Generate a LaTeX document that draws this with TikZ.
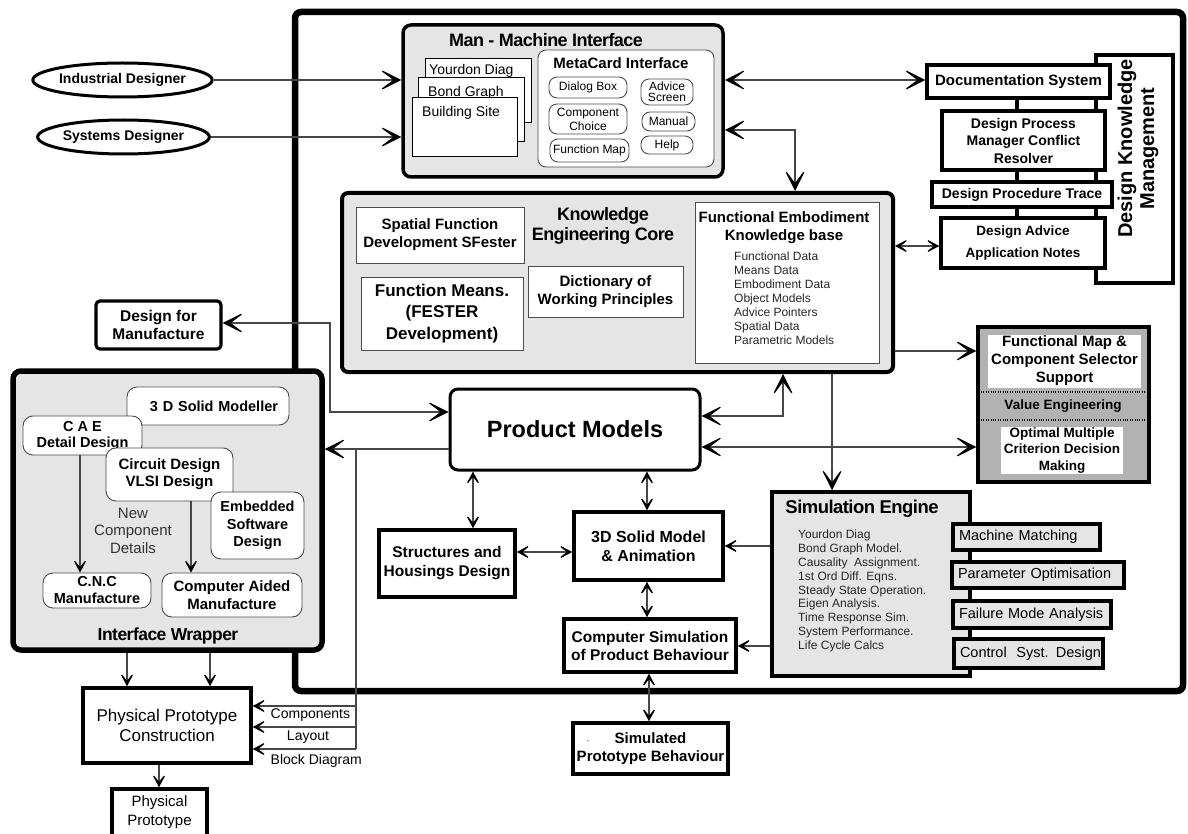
\documentclass[tikz,border=0pt]{standalone}
\usepackage{fontspec}
\setmainfont{Liberation Sans}
\newfontfamily\tightsans{Liberation Sans}[LetterSpace=-3.0]
\usetikzlibrary{arrows.meta,shapes.geometric}

\newcommand\fsz[2]{\fontsize{#1}{#2}\selectfont}

\tikzset{
  BigHead/.tip={Stealth[length=24pt,width=24pt,inset=16pt,color=black]},
  MidHead/.tip={Stealth[length=16pt,width=17pt,inset=10.5pt,color=black]},
  conn/.style={draw=black!72, line width=1.1pt},
  thicklink/.style={draw, line width=3.5pt},
  thickbox/.style={draw, line width=3.5pt, fill=white, align=center, inner sep=0pt, font=\bfseries},
  thinbox/.style={draw=black!70, line width=0.9pt, fill=white, align=center, inner sep=0pt},
  pill/.style={thinbox, rounded corners=8pt},
  panel/.style={draw, line width=4pt, fill=black!10, rounded corners=8pt, inner sep=0pt},
  sidebox/.style={draw, line width=3.5pt, fill=black!10, inner xsep=6pt, inner ysep=0pt, align=left, font=\fsz{14.5}{16}},
  page/.style={draw, line width=1pt, fill=white, inner sep=0pt},
  actor/.style={ellipse, draw, line width=3pt, inner sep=0pt, minimum width=153pt, minimum height=34pt, font=\bfseries\fsz{14}{16}},
}

\begin{document}
\begin{tikzpicture}[x=1pt,y=-1pt]
\useasboundingbox (0,0) rectangle (1188,834);

% ---------------- system boundary ----------------
\node[draw, line width=6.5pt, rounded corners=6pt, minimum width=888pt, minimum height=679pt, inner sep=0pt] (frame) at (739,351.5) {};

% ---------------- designers ----------------
\node[actor] (indes) at (122.5,80) {Industrial Designer};
\node[actor] (sysdes) at (123.5,137) {Systems Designer};

% ---------------- man-machine interface ----------------
\node[panel, line width=3.5pt, minimum width=320pt, minimum height=152pt] (mmi) at (563,101) {};
\node[font=\tightsans\bfseries\fsz{18}{20}] (mmititle) at (546,40) {Man - Machine Interface};
\node[page, minimum width=106pt, minimum height=64pt] (pyourdon) at (478,91) {};
\node[anchor=base west, inner sep=0pt, font=\fsz{14}{16}] (tyourdon) at (429,75) {Yourdon Diag};
\node[page, minimum width=106pt, minimum height=64pt] (pbond) at (471,110) {};
\node[anchor=base west, inner sep=0pt, font=\fsz{14}{16}] (tbond) at (428,96.5) {Bond Graph};
\node[page, minimum width=105pt, minimum height=59pt] (pbuild) at (464.5,127.5) {};
\node[anchor=base west, inner sep=0pt, font=\fsz{14}{16}] (tbuild) at (422,117) {Building Site};

\node[thinbox, rounded corners=8pt, minimum width=176pt, minimum height=117pt] (metacard) at (626,108.5) {};
\node[font=\bfseries\fsz{15}{17}] (mctitle) at (621,63) {MetaCard Interface};
\node[pill, minimum width=78pt, minimum height=21pt, font=\fsz{12}{13.5}] (dialog) at (588,87.5) {Dialog Box};
\node[pill, minimum width=78pt, minimum height=30pt, font=\fsz{12}{14}] (compchoice) at (588,119) {Component\\Choice};
\node[pill, minimum width=79pt, minimum height=23pt, font=\fsz{12}{13.5}] (funcmap) at (589.5,150.5) {Function Map};
\node[pill, minimum width=52pt, minimum height=26pt, font=\fsz{12}{11}] (advice) at (667,92) {Advice\\Screen};
\node[pill, minimum width=53pt, minimum height=19pt, font=\fsz{12}{13.5}] (manual) at (668.5,121.5) {Manual};
\node[pill, minimum width=52pt, minimum height=18pt, font=\fsz{12}{13.5}] (help) at (667,145) {Help};

% ---------------- knowledge engineering core ----------------
\node[panel, rounded corners=6pt, minimum width=551pt, minimum height=179pt] (kec) at (617.5,282.5) {};
\node[thinbox, minimum width=168pt, minimum height=56pt, font=\bfseries\fsz{15}{18}] (sfester) at (440,235) {Spatial Function\\Development SFester};
\node[thinbox, minimum width=162pt, minimum height=73pt, font=\bfseries\fsz{17}{21.5}] (fmeans) at (442,313.5) {Function Means.\\(FESTER\\Development)};
\node[align=center, font=\tightsans\bfseries\fsz{18}{20}] (kectitle) at (603,226) {Knowledge\\Engineering Core};
\node[thinbox, minimum width=155pt, minimum height=51pt, font=\bfseries\fsz{15}{18}] (dict) at (605.5,291.5) {Dictionary of\\Working Principles};
\node[thinbox, minimum width=184pt, minimum height=161pt] (kb) at (787,282.5) {};
\node[align=center, font=\bfseries\fsz{15}{18}] (kbtitle) at (784,228) {Functional Embodiment\\Knowledge base};
\node[anchor=north west, align=left, inner sep=0pt, text=black!85, font=\fsz{12}{14}] (kblist) at (734,251.5)
  {Functional Data\\Means Data\\Embodiment Data\\Object Models\\Advice Pointers\\Spatial Data\\Parametric Models};

% ---------------- design knowledge management ----------------
\node[draw, line width=3.5pt, fill=white, minimum width=77pt, minimum height=228pt, inner sep=0pt] (dkm) at (1134.5,169) {};
\node[rotate=90, align=center, font=\bfseries\fsz{20}{22}] (dkmtext) at (1138,148.5) {Design Knowledge\\Management};
\node[thickbox, minimum width=183pt, minimum height=33pt, font=\bfseries\fsz{15}{17}] (doc) at (1018.5,81.5) {Documentation System};
\node[thickbox, minimum width=163pt, minimum height=59pt, font=\bfseries\fsz{14}{17.5}] (dpm) at (1023.5,140.5) {Design Process\\Manager Conflict\\Resolver};
\node[thickbox, minimum width=180pt, minimum height=25pt, font=\bfseries\fsz{14}{16}] (dpt) at (1022,194.5) {Design Procedure Trace};
\node[thickbox, minimum width=164pt, minimum height=50pt, font=\bfseries\fsz{13.5}{21.5}] (dadv) at (1023,243) {Design Advice\\Application Notes};
\coordinate (xDK) at (1017,0);
\draw[thicklink] (doc.south -| xDK) -- (dpm.north -| xDK);
\draw[thicklink] (dpm.south -| xDK) -- (dpt.north -| xDK);
\draw[thicklink] (dpt.south -| xDK) -- (dadv.north -| xDK);

% ---------------- selector / value engineering ----------------
\node[draw, line width=3.5pt, fill=black!30, minimum width=171pt, minimum height=155pt, inner sep=0pt] (fm) at (1063.5,404.5) {};
\node[fill=white, minimum width=153pt, minimum height=53pt, inner sep=0pt, align=center, font=\bfseries\fsz{15}{18}] (fmsel) at (1064.5,361) {Functional Map \&\\Component Selector\\Support};
\coordinate (dotA) at (0,392);
\coordinate (dotB) at (0,420);
\draw[line width=1.1pt, dash pattern=on 1pt off 1.4pt] (fm.west |- dotA) -- (fm.east |- dotA);
\draw[line width=1.1pt, dash pattern=on 1pt off 1.4pt] (fm.west |- dotB) -- (fm.east |- dotB);
\node[font=\bfseries\fsz{13.5}{16}] (valeng) at (1063,406) {Value Engineering};
\node[fill=white, minimum width=122pt, minimum height=47pt, inner sep=0pt, align=center, font=\bfseries\fsz{13.5}{16.3}] (omcdm) at (1062,450.5) {Optimal Multiple\\Criterion Decision\\Making};

% ---------------- design for manufacture ----------------
\node[thickbox, line width=3.2pt, rounded corners=4pt, minimum width=125pt, minimum height=48pt, font=\bfseries\fsz{15.5}{17.5}] (dfm) at (158.5,325) {Design for\\Manufacture};

% ---------------- interface wrapper ----------------
\node[panel, line width=5.5pt, minimum width=309pt, minimum height=279pt] (wrap) at (167.5,510.5) {};
\node[thinbox, rounded corners=10pt, minimum width=162pt, minimum height=38pt, text width=140pt, align=right, font=\bfseries\fsz{14.5}{16}] (solidmod) at (208,406) {3 D Solid Modeller};
\node[thinbox, rounded corners=10pt, minimum width=119pt, minimum height=39pt, font=\bfseries\fsz{14.5}{16}] (cae) at (82.5,435.5) {C A E\\Detail Design};
\node[thinbox, rounded corners=10pt, minimum width=127pt, minimum height=53pt, font=\bfseries\fsz{15}{17}] (circuit) at (169.5,474.5) {Circuit Design\\VLSI Design};
\node[thinbox, rounded corners=10pt, minimum width=93pt, minimum height=67pt, font=\bfseries\fsz{14.5}{17.5}] (embedded) at (257.5,525.5) {Embedded\\Software\\Design};
\node[thinbox, rounded corners=10pt, minimum width=108pt, minimum height=35pt, font=\bfseries\fsz{14.5}{17}] (cnc) at (97,590.5) {C.N.C\\Manufacture};
\node[thinbox, rounded corners=10pt, minimum width=140pt, minimum height=44pt, font=\bfseries\fsz{15}{18}] (cam) at (232,595) {Computer Aided\\Manufacture};
\node[align=center, text=black!80, font=\fsz{15}{17.5}] (newcomp) at (133,530.5) {New\\Component\\Details};
\node[font=\tightsans\bfseries\fsz{17.5}{20}] (wraptitle) at (168,636) {Interface Wrapper};

% ---------------- product models and its neighbours ----------------
\node[thickbox, line width=3pt, rounded corners=8pt, minimum width=250pt, minimum height=81pt, font=\bfseries\fsz{23.5}{26}] (pm) at (575,429.5) {Product Models};
\node[thickbox, minimum width=136pt, minimum height=67pt, font=\bfseries\fsz{15.5}{19}] (struct) at (447,563.5) {Structures and\\Housings Design};
\node[thickbox, minimum width=149pt, minimum height=68pt, font=\bfseries\fsz{16}{18.7}] (solid) at (648.5,546) {3D Solid Model\\\& Animation};
\node[thickbox, minimum width=172pt, minimum height=53pt, font=\bfseries\fsz{15.5}{18}] (compsim) at (650,645.5) {Computer Simulation\\of Product Behaviour};
\node[thickbox, minimum width=155pt, minimum height=51pt, font=\bfseries\fsz{15}{17.5}] (simproto) at (650.5,748.5) {Simulated\\Prototype Behaviour};
\node[inner sep=0pt, font=\fsz{8}{8}] (tick) at (588,744) {\textasciigrave};

% ---------------- simulation engine ----------------
\node[draw, line width=3.5pt, fill=black!10, minimum width=198pt, minimum height=184pt, inner sep=0pt] (sim) at (871,584) {};
\node[font=\tightsans\bfseries\fsz{18.5}{20}] (simtitle) at (862,509) {Simulation Engine};
\node[anchor=north west, align=left, inner sep=0pt, text=black!85, font=\fsz{12}{13.9}] (simlist) at (798,529.5)
  {Yourdon Diag\\Bond Graph Model.\\Causality\ \ Assignment.\\1st Ord Diff. Eqns.\\Steady State Operation.\\Eigen Analysis.\\Time Response Sim.\\System Performance.\\Life Cycle Calcs};
\node[sidebox, minimum height=26pt, text width=135pt] (mm) at (1026.5,537) {\mbox{Machine Matching}};
\node[sidebox, minimum height=26pt, text width=160pt] (po) at (1038,575) {\mbox{Parameter Optimisation}};
\node[sidebox, minimum height=27pt, text width=146pt] (fma) at (1032,614.5) {\mbox{Failure Mode Analysis}};
\node[sidebox, minimum height=29pt, text width=137pt] (csd) at (1028.5,653.5) {\mbox{Control\ \ Syst. Design}};

% ---------------- physical prototype ----------------
\node[thickbox, minimum width=168pt, minimum height=75pt, font=\fsz{17}{20}] (ppc) at (167,725.5) {Physical Prototype\\Construction};
\node[thickbox, minimum width=95pt, minimum height=61pt] (pp) at (159.5,819.5) {};
\node[align=center, font=\fsz{15}{19}] (pptext) at (159.5,812.5) {Physical\\Prototype};
\node[anchor=west, inner sep=0pt, font=\fsz{14}{16}] (lcomp) at (270.5,715) {Components};
\node[inner sep=0pt, font=\fsz{14}{16}] (llay) at (308,737.5) {Layout};
\node[anchor=west, inner sep=0pt, font=\fsz{14}{16}] (lblock) at (270.5,761) {Block Diagram};

% ---------------- connector routing points ----------------
\coordinate (yA) at (0,80);
\coordinate (kbend) at (795,130);
\coordinate (yAdv) at (0,246);
\coordinate (ySel) at (0,351);
\coordinate (pkb) at (783,416);
\coordinate (yOpt) at (0,447);
\coordinate (xSim) at (832,0);
\coordinate (ySolid) at (0,546);
\coordinate (yComp) at (0,646);
\coordinate (xStr) at (473,0);
\coordinate (xSol) at (647,0);
\coordinate (ySS) at (0,552);
\coordinate (xSP) at (649,0);
\coordinate (yWrap) at (0,449);
\coordinate (bus) at (356,449);
\coordinate (busA) at (356,706);
\coordinate (busB) at (356,727);
\coordinate (busC) at (356,749);
\coordinate (dfmA) at (330,323);
\coordinate (dfmB) at (330,412);
\coordinate (xW1) at (127,0);
\coordinate (xW2) at (210,0);
\coordinate (xPP) at (159,0);
\coordinate (xC1) at (80,0);
\coordinate (xC2) at (191,0);

% ---------------- connectors ----------------
\draw[conn,-{BigHead}] (indes.east) -- (mmi.west |- indes.east);
\draw[conn,-{BigHead}] (sysdes.east) -- (mmi.west |- sysdes.east);
\draw[conn,{BigHead}-{BigHead}] (mmi.east |- yA) -- (doc.west |- yA);
\draw[conn,{BigHead}-{BigHead}] (mmi.east |- kbend) -| (kec.north -| kbend);
\draw[conn,{MidHead}-{MidHead}] (kec.east |- yAdv) -- (dadv.west |- yAdv);
\draw[conn,-{BigHead}] (kec.east |- ySel) -- (fm.west |- ySel);
\draw[conn,{BigHead}-{BigHead}] (pm.east |- pkb) -| (kec.south -| pkb);
\draw[conn,{BigHead}-{BigHead}] (pm.east |- yOpt) -- (fm.west |- yOpt);
\draw[conn,-{BigHead}] (kec.south -| xSim) -- (sim.north -| xSim);
\draw[conn,-{MidHead}] (sim.west |- ySolid) -- (solid.east |- ySolid);
\draw[conn,-{MidHead}] (sim.west |- yComp) -- (compsim.east |- yComp);
\draw[conn,{MidHead}-{MidHead}] (pm.south -| xStr) -- (struct.north -| xStr);
\draw[conn,{MidHead}-{MidHead}] (pm.south -| xSol) -- (solid.north -| xSol);
\draw[conn,{MidHead}-{MidHead}] (struct.east |- ySS) -- (solid.west |- ySS);
\draw[conn,{MidHead}-{MidHead}] (solid.south -| xSol) -- (compsim.north -| xSol);
\draw[conn,{MidHead}-{MidHead}] (compsim.south -| xSP) -- (simproto.north -| xSP);
\draw[conn,-{BigHead}] (pm.west |- yWrap) -- (wrap.east |- yWrap);
\draw[conn] (bus) -- (busC);
\draw[conn,-{MidHead}] (busA) -- (ppc.east |- busA);
\draw[conn,-{MidHead}] (busB) -- (ppc.east |- busB);
\draw[conn,-{MidHead}] (busC) -- (ppc.east |- busC);
\draw[conn,{BigHead}-{BigHead}] (dfm.east |- dfmA) -- (dfmA) -- (dfmB) -- (pm.west |- dfmB);
\draw[conn,-{MidHead}] (wrap.south -| xW1) -- (ppc.north -| xW1);
\draw[conn,-{MidHead}] (wrap.south -| xW2) -- (ppc.north -| xW2);
\draw[conn,-{MidHead}] (ppc.south -| xPP) -- (pp.north -| xPP);
\draw[conn,-{MidHead}] (cae.south -| xC1) -- (cnc.north -| xC1);
\draw[conn,-{MidHead}] (circuit.south -| xC2) -- (cam.north -| xC2);

\end{tikzpicture}
\end{document}
